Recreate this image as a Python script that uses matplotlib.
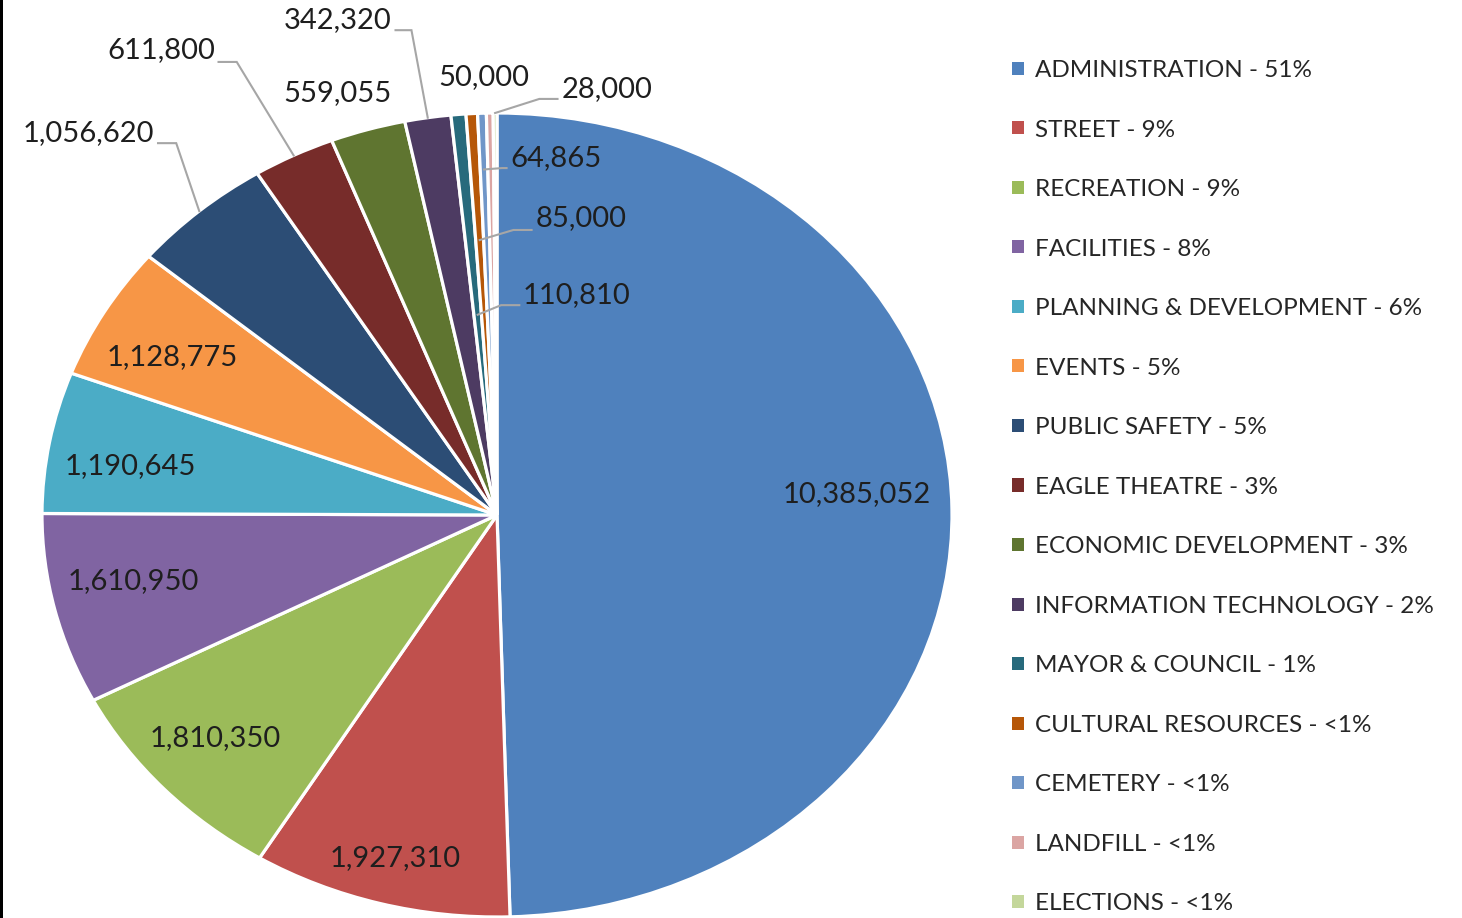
import numpy as np
import matplotlib
matplotlib.use("Agg")
import matplotlib.pyplot as plt
from matplotlib.patches import Patch, Rectangle

plt.rcParams['font.family'] = ['Lato', 'DejaVu Sans']

# data
departments = ["ADMINISTRATION", "STREET", "RECREATION", "FACILITIES",
               "PLANNING & DEVELOPMENT", "EVENTS", "PUBLIC SAFETY", "EAGLE THEATRE",
               "ECONOMIC DEVELOPMENT", "INFORMATION TECHNOLOGY", "MAYOR & COUNCIL",
               "CULTURAL RESOURCES", "CEMETERY", "LANDFILL", "ELECTIONS"]
budget = [10385052, 1927310, 1810350, 1610950, 1190645, 1128775, 1056620, 611800,
          559055, 342320, 110810, 85000, 64865, 50000, 28000]
pct_text = ["51%", "9%", "9%", "8%", "6%", "5%", "5%", "3%", "3%", "2%", "1%",
            "<1%", "<1%", "<1%", "<1%"]

colors = ["#4F81BD", "#C0504D", "#9BBB59", "#8064A2", "#4BACC6", "#F79646",
          "#2C4D75", "#772C2A", "#5F7530", "#4D3B62", "#276A7C", "#B65708",
          "#7096C8", "#DBA5A3", "#C4D79B"]

# label placement (axes data units, pie radius = 1)
# (x, y, ha, leader: None or (gap sign, knee length, radius of end point, y shift))
label_pos = [
    (0.791, 0.052, "center", None),
    (-0.224, -0.853, "center", None),
    (-0.620, -0.555, "center", None),
    (-0.800, -0.164, "center", None),
    (-0.807, 0.122, "center", None),
    (-0.714, 0.393, "center", None),
    (-0.753, 0.950, "right", (1, 0.04, 1.0, -0.025)),
    (-0.620, 1.157, "right", (1, 0.04, 1.0, -0.03)),
    (-0.351, 1.050, "center", None),
    (-0.231, 1.231, "right", (1, 0.035, 1.0, -0.025)),
    (0.057, 0.547, "left", (-1, 0.04, 0.50, -0.025)),
    (0.084, 0.739, "left", (-1, 0.04, 0.685, -0.03)),
    (0.029, 0.888, "left", (-1, 0.01, 0.86, -0.025)),
    (-0.029, 1.090, "center", None),
    (0.141, 1.060, "left", (-1, 0.04, 1.0, -0.025)),
]

fig = plt.figure(figsize=(14.62, 9.18), dpi=100)
W, H = 1462, 918
cx, cy, rx, ry = 497, 515, 455, 402
ax = fig.add_axes([(cx - rx) / W, (H - cy - ry) / H, 2 * rx / W, 2 * ry / H])

wedges, _ = ax.pie(budget, colors=colors, startangle=90, counterclock=False,
                   radius=1, wedgeprops=dict(edgecolor="white", linewidth=2.3))
ax.set_aspect("auto")
ax.set_xlim(-1, 1)
ax.set_ylim(-1, 1)
ax.axis("off")

txt_color = "#1e1e1e"
for w, val, (lx, ly, ha, leader) in zip(wedges, budget, label_pos):
    ax.text(lx, ly, f"{val:,}", ha=ha, va="center", fontsize=21,
            color=txt_color, clip_on=False)
    if leader is not None:
        sign, knee, r_end, dy = leader
        mid = np.deg2rad((w.theta1 + w.theta2) / 2)
        ex, ey = r_end * np.cos(mid), r_end * np.sin(mid)
        sx = lx + sign * 0.008
        kx = sx + sign * knee
        yy = ly + dy
        ax.plot([sx, kx, ex], [yy, yy, ey], color="#A6A6A6", lw=1.5,
                clip_on=False, solid_joinstyle="miter")

handles = [Patch(facecolor=c, edgecolor="none") for c in colors]
labels = [f"{d} - {p}" for d, p in zip(departments, pct_text)]
fig.legend(handles, labels, loc="upper left", bbox_to_anchor=(1012 / W, 1 - 60 / H),
           frameon=False, fontsize=17.5, handlelength=0.5, handleheight=0.45,
           handletextpad=0.45, labelspacing=1.585, labelcolor="#262626",
           borderaxespad=0, borderpad=0)

fig.patches.append(Rectangle((0, 0), 3 / W, 1, transform=fig.transFigure,
                             facecolor="black", edgecolor="none"))

fig.savefig("out.png", dpi=100, facecolor="white")
